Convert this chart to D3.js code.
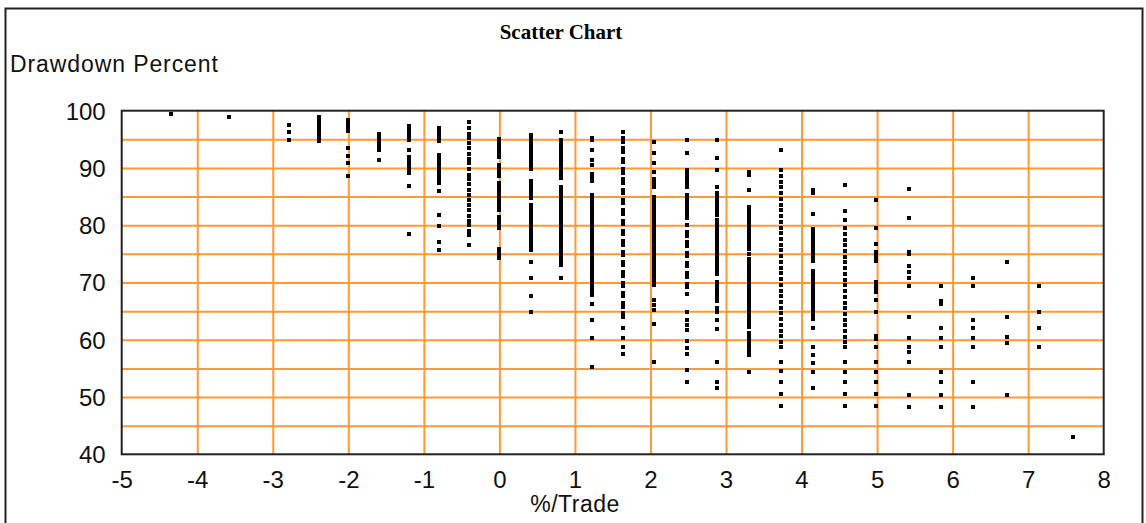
<!DOCTYPE html>
<html>
<head>
<meta charset="utf-8">
<script src="https://cdn.jsdelivr.net/npm/d3@7"></script>
<style>
  html, body { margin: 0; padding: 0; background: #fff; }
  svg { display: block; }
</style>
</head>
<body>
<svg id="chart" width="1146" height="523"></svg>
<script>
// ---- Data ----
const title = "Scatter Chart";
const yTitle = "Drawdown Percent";
const xTitle = "%/Trade";
const xTicks = [-5, -4, -3, -2, -1, 0, 1, 2, 3, 4, 5, 6, 7, 8];
const yTicks = [40, 50, 60, 70, 80, 90, 100];
const yGrid = [45, 50, 55, 60, 65, 70, 75, 80, 85, 90, 95];

// x position of each column of points (%/Trade)
const columnX = [-4.35, -3.58, -2.785, -2.39, -2.0, -1.6, -1.2, -0.8, -0.4, 0.0,
  0.42, 0.81, 1.23, 1.64, 2.05, 2.48, 2.88, 3.30, 3.73, 4.15,
  4.57, 4.99, 5.42, 5.84, 6.27, 6.72, 7.14, 7.59];

// drawdown values of the points in each column
const col_m435 = [99.5];
const col_m358 = [98.9];
const col_m279 = [97.5, 96.2, 94.9];
const col_m239 = [98.9, 98.3, 97.7, 97.1, 96.5, 95.9, 95.3, 94.7];
const col_m200 = [98.3, 97.7, 97.1, 96.5, 93.5, 92.1, 90.9, 88.6];
const col_m160 = [95.9, 95.3, 94.7, 94.1, 93.5, 93.2, 91.4];
const col_m120 = [97.3, 96.7, 96.1, 95.5, 94.9, 93.1, 91.9, 91.3, 90.7, 90.1, 89.5, 89.1, 86.9, 78.5];
const col_m080 = [96.9, 96.3, 95.7, 95.1, 94.7, 92.2, 91.6, 91.0, 90.4, 89.8, 89.2, 88.6, 88.0, 87.4,
  85.9, 81.8, 79.9, 77.1, 75.7];
const col_m040 = [98.0, 97.0, 96.0, 95.2, 94.4, 93.4, 92.4, 91.6, 90.8, 89.8, 88.8, 88.0, 87.2, 86.2,
  85.2, 84.4, 83.6, 82.6, 81.6, 80.8, 80.0, 79.0, 78.3, 76.6];
const col_000 = [95.1, 94.5, 93.9, 93.3, 92.7, 92.0, 90.5, 89.9, 89.3, 88.6, 87.3, 86.7, 86.1, 85.5,
  84.9, 84.3, 83.7, 83.1, 82.7, 81.4, 80.8, 80.2, 79.5, 75.9, 75.3, 74.7, 74.3];
const col_042 = [95.8, 95.2, 94.6, 94.0, 93.4, 92.8, 92.2, 91.6, 91.0, 90.4, 89.8, 87.8, 87.2, 86.6,
  86.0, 85.4, 84.8, 83.5, 82.9, 82.3, 81.7, 81.1, 80.5, 79.9, 79.3, 78.7, 78.1, 77.5, 76.9, 76.3,
  75.7, 73.5, 70.7, 67.6, 64.8];
const col_081 = [96.2, 94.9, 94.3, 93.7, 93.1, 92.5, 91.9, 91.3, 90.7, 90.1, 89.5, 88.9, 88.3, 86.7,
  86.1, 85.5, 84.9, 84.3, 83.7, 83.1, 82.5, 81.9, 81.3, 80.7, 80.1, 79.5, 78.9, 78.3, 77.7, 77.1,
  76.5, 75.9, 75.3, 74.7, 74.1, 73.5, 73.1, 70.7];
const col_123 = [95.2, 94.8, 93.1, 91.4, 90.5, 89.0, 88.4, 87.7, 85.3, 84.7, 84.1, 83.5, 82.9, 82.3,
  81.7, 81.1, 80.5, 79.9, 79.3, 78.7, 78.1, 77.5, 76.9, 76.3, 75.7, 75.1, 74.5, 73.9, 73.3, 72.7,
  72.1, 71.5, 70.9, 70.3, 69.7, 69.1, 68.5, 67.9, 66.2, 63.5, 60.3, 55.3];
const col_164 = [96.3, 95.2, 94.6, 93.4, 92.8, 91.6, 91.0, 89.8, 89.2, 88.0, 87.4, 86.2, 85.6, 84.4,
  83.8, 82.6, 82.0, 80.8, 80.2, 79.0, 78.4, 77.2, 76.6, 75.4, 74.8, 73.6, 73.0, 71.8, 71.2, 70.0,
  69.4, 68.2, 67.6, 66.4, 65.8, 64.6, 64.0, 62.1, 60.3, 58.8, 57.6];
const col_205 = [94.6, 92.6, 90.8, 89.3, 88.0, 87.4, 86.6, 85.0, 84.4, 83.8, 83.2, 82.6, 82.0, 81.4,
  80.8, 80.2, 79.6, 79.0, 78.4, 77.8, 77.2, 76.6, 76.0, 75.4, 74.8, 74.2, 73.6, 73.0, 72.4, 71.8,
  71.2, 70.6, 70.0, 69.5, 66.9, 66.0, 65.2, 62.8, 56.1];
const col_248 = [94.9, 92.6, 89.6, 89.0, 88.4, 87.8, 87.2, 86.6, 85.3, 84.7, 84.1, 83.5, 82.9, 82.3,
  81.7, 81.2, 80.0, 78.8, 78.2, 77.0, 76.4, 75.2, 74.6, 73.4, 72.8, 71.6, 71.0, 69.8, 69.2, 68.0,
  64.9, 63.5, 62.6, 61.7, 59.7, 58.6, 57.6, 54.7, 52.6];
const col_288 = [94.9, 91.7, 89.6, 86.6, 85.6, 85.0, 84.4, 83.8, 83.2, 82.4, 81.7, 80.9, 80.3, 79.7,
  79.1, 78.5, 77.9, 77.3, 76.7, 76.1, 75.5, 74.9, 74.3, 73.7, 73.1, 72.5, 71.9, 71.5, 70.1, 69.5,
  68.9, 68.3, 67.7, 67.1, 66.7, 65.5, 64.9, 63.5, 61.9, 56.1, 52.6, 51.5];
const col_330 = [89.3, 88.7, 86.2, 83.2, 82.6, 82.0, 81.4, 80.8, 80.2, 79.6, 79.0, 78.4, 77.8, 77.2,
  76.6, 75.8, 74.9, 74.1, 73.4, 72.7, 72.0, 71.4, 70.8, 70.2, 69.6, 69.0, 68.4, 67.8, 67.2, 66.6,
  66.0, 65.4, 64.8, 64.2, 63.6, 63.0, 62.2, 61.2, 60.5, 59.9, 59.3, 58.6, 58.0, 57.4, 54.3];
const col_373 = [93.1, 89.6, 88.6, 87.6, 86.6, 85.6, 84.6, 83.6, 82.6, 81.6, 80.6, 79.6, 78.6, 77.6,
  76.6, 75.6, 74.6, 73.6, 72.6, 71.6, 70.6, 69.6, 68.6, 67.6, 66.6, 65.6, 64.6, 63.6, 62.6, 61.6,
  60.6, 59.6, 58.8, 56.1, 54.6, 52.6, 50.5, 48.4];
const col_415 = [86.2, 85.6, 81.9, 79.4, 78.8, 78.2, 77.6, 77.0, 76.4, 75.8, 75.2, 74.6, 74.0, 73.7,
  72.0, 71.4, 70.8, 70.2, 69.6, 69.0, 68.4, 67.8, 67.2, 66.6, 66.0, 65.4, 64.8, 64.2, 63.6, 62.0,
  58.8, 57.3, 55.9, 54.3, 51.5];
const col_457 = [87.0, 82.4, 80.9, 79.5, 78.5, 77.5, 76.5, 75.5, 74.5, 73.5, 72.5, 71.5, 70.5, 69.5,
  68.5, 67.5, 66.5, 65.5, 64.5, 63.5, 62.5, 61.5, 60.5, 59.6, 58.8, 56.1, 54.3, 52.6, 50.5, 48.4];
const col_499 = [84.4, 79.5, 76.7, 75.4, 74.8, 74.2, 73.7, 70.1, 69.5, 68.9, 68.3, 67.0, 64.8, 60.7,
  60.1, 58.8, 56.1, 54.3, 52.6, 50.5, 48.4];
const col_542 = [86.4, 81.2, 75.3, 74.9, 72.9, 71.8, 70.7, 69.4, 64.0, 60.3, 58.8, 57.8, 56.1, 50.4, 48.3];
const col_584 = [69.4, 66.8, 66.2, 62.0, 60.3, 58.8, 54.3, 52.6, 50.4, 48.3];
const col_627 = [70.7, 69.4, 63.5, 62.0, 60.3, 58.8, 52.6, 48.3];
const col_672 = [73.5, 64.0, 60.5, 59.5, 50.4];
const col_714 = [69.4, 64.8, 62.0, 58.8];
const col_759 = [43.1];

const columnY = [col_m435, col_m358, col_m279, col_m239, col_m200, col_m160, col_m120, col_m080,
  col_m040, col_000, col_042, col_081, col_123, col_164, col_205, col_248, col_288, col_330,
  col_373, col_415, col_457, col_499, col_542, col_584, col_627, col_672, col_714, col_759];

// flatten into point records
const points = [];
columnX.forEach((xv, i) => columnY[i].forEach(yv => points.push({ x: xv, y: yv })));

// ---- Drawing ----
const svg = d3.select("#chart");
const plot = { left: 121.7, right: 1103.7, top: 110.7, bottom: 454.3 };
const W = plot.right - plot.left, H = plot.bottom - plot.top;

const x = d3.scaleLinear().domain([-5, 8]).range([plot.left, plot.right]);
const y = d3.scaleLinear().domain([40, 100]).range([plot.bottom, plot.top]);

const orange = "#ff9933";
const sans = "'Liberation Sans', Arial, sans-serif";
const fmt = d => String(d);   // plain hyphen-minus like the reference

// outer frame
svg.append("rect")
  .attr("x", 5.5).attr("y", 8.5).attr("width", 1137).attr("height", 530)
  .attr("fill", "none").attr("stroke", "#222").attr("stroke-width", 2);

// vertical gridlines
svg.append("g")
  .attr("transform", `translate(0,${plot.bottom})`)
  .call(d3.axisBottom(x).tickValues(xTicks.slice(1, -1)).tickSize(-H).tickFormat(""))
  .call(g => g.select(".domain").remove())
  .call(g => g.selectAll("line").attr("stroke", orange).attr("stroke-width", 2));

// horizontal gridlines
svg.append("g")
  .attr("transform", `translate(${plot.left},0)`)
  .call(d3.axisLeft(y).tickValues(yGrid).tickSize(-W).tickFormat(""))
  .call(g => g.select(".domain").remove())
  .call(g => g.selectAll("line").attr("stroke", orange).attr("stroke-width", 2));

// points
svg.append("g")
  .selectAll("rect")
  .data(points)
  .join("rect")
  .attr("x", d => Math.round(x(d.x)) - 2)
  .attr("y", d => Math.round(y(d.y)) - 2)
  .attr("width", 4).attr("height", 4)
  .attr("fill", "#000")
  .attr("shape-rendering", "crispEdges");

// plot border
svg.append("rect")
  .attr("x", plot.left).attr("y", plot.top).attr("width", W).attr("height", H)
  .attr("fill", "none").attr("stroke", "#222").attr("stroke-width", 2);

// x axis labels
svg.append("g")
  .attr("transform", `translate(0,${plot.bottom})`)
  .call(d3.axisBottom(x).tickValues(xTicks).tickSize(0).tickPadding(0).tickFormat(fmt))
  .call(g => g.select(".domain").remove())
  .call(g => g.selectAll("text")
    .attr("dy", null).attr("y", 34)
    .attr("font-family", sans).attr("font-size", 24).attr("fill", "#111"));

// y axis labels
svg.append("g")
  .attr("transform", `translate(${plot.left},0)`)
  .call(d3.axisLeft(y).tickValues(yTicks).tickSize(0).tickPadding(0).tickFormat(fmt))
  .call(g => g.select(".domain").remove())
  .call(g => g.selectAll("text")
    .attr("x", -16).attr("dy", "0.35em")
    .attr("font-family", sans).attr("font-size", 24).attr("fill", "#111"));

// title
svg.append("text")
  .attr("x", 561).attr("y", 39)
  .attr("text-anchor", "middle")
  .attr("font-family", "'Liberation Serif', 'Times New Roman', serif")
  .attr("font-weight", "bold").attr("font-size", 21).attr("fill", "#000")
  .text(title);

// y title
svg.append("text")
  .attr("x", 10).attr("y", 72)
  .attr("font-family", sans).attr("font-size", 23).attr("letter-spacing", "0.9px")
  .attr("fill", "#111")
  .text(yTitle);

// x title
svg.append("text")
  .attr("x", 575).attr("y", 512)
  .attr("text-anchor", "middle")
  .attr("font-family", sans).attr("font-size", 23).attr("letter-spacing", "0.5px")
  .attr("fill", "#111")
  .text(xTitle);
</script>
</body>
</html>
